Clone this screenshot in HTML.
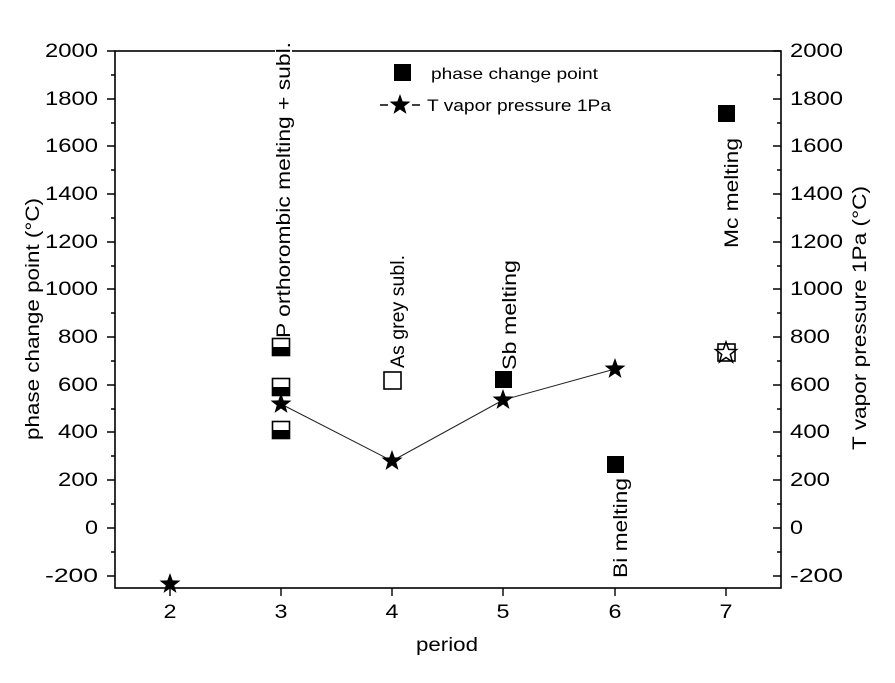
<!DOCTYPE html>
<html><head><style>body{margin:0;background:#fff}svg text{font-family:"Liberation Sans",Arial,sans-serif;fill:#000}</style></head>
<body>
<svg width="895" height="678" viewBox="0 0 895 678" xmlns="http://www.w3.org/2000/svg">
<defs>
<path id="st" d="M0,-11 L2.65,-3.64 L10.46,-3.4 L4.28,1.39 L6.47,8.9 L0,4.5 L-6.47,8.9 L-4.28,1.39 L-10.46,-3.4 L-2.65,-3.64Z"/>
<g id="hs"><rect x="-8.5" y="-8.5" width="17" height="17" fill="#fff" stroke="#000" stroke-width="1.6"/><rect x="-8.5" y="0" width="17" height="8.5" fill="#000"/></g>
</defs>
<rect x="115" y="51" width="666" height="537" fill="none" stroke="#000" stroke-width="1.6"/>
<g stroke="#000" stroke-width="1.4">
<path d="M115,51h-8M115,99h-8M115,146h-8M115,194h-8M115,242h-8M115,289h-8M115,337h-8M115,385h-8M115,432h-8M115,480h-8M115,528h-8M115,576h-8"/>
<path d="M115,75h-4M115,123h-4M115,170h-4M115,218h-4M115,266h-4M115,313h-4M115,361h-4M115,409h-4M115,456h-4M115,504h-4M115,552h-4"/>
<path d="M781,51h-8M781,99h-8M781,146h-8M781,194h-8M781,242h-8M781,289h-8M781,337h-8M781,385h-8M781,432h-8M781,480h-8M781,528h-8M781,576h-8"/>
<path d="M781,75h-4M781,123h-4M781,170h-4M781,218h-4M781,266h-4M781,313h-4M781,361h-4M781,409h-4M781,456h-4M781,504h-4M781,552h-4"/>
<path d="M170,588v8M281,588v8M392,588v8M503,588v8M615,588v8M726,588v8"/>
</g>
<g font-size="19" text-anchor="end">
<text x="98" y="57" textLength="53" lengthAdjust="spacingAndGlyphs">2000</text><text x="98" y="105" textLength="53" lengthAdjust="spacingAndGlyphs">1800</text><text x="98" y="152" textLength="53" lengthAdjust="spacingAndGlyphs">1600</text><text x="98" y="200" textLength="53" lengthAdjust="spacingAndGlyphs">1400</text><text x="98" y="248" textLength="53" lengthAdjust="spacingAndGlyphs">1200</text><text x="98" y="295" textLength="53" lengthAdjust="spacingAndGlyphs">1000</text><text x="98" y="343" textLength="40" lengthAdjust="spacingAndGlyphs">800</text><text x="98" y="391" textLength="40" lengthAdjust="spacingAndGlyphs">600</text><text x="98" y="438" textLength="40" lengthAdjust="spacingAndGlyphs">400</text><text x="98" y="486" textLength="40" lengthAdjust="spacingAndGlyphs">200</text><text x="98" y="534" textLength="13" lengthAdjust="spacingAndGlyphs">0</text><text x="98" y="582" textLength="53" lengthAdjust="spacingAndGlyphs">-200</text>
</g>
<g font-size="19" text-anchor="start">
<text x="790" y="57" textLength="53" lengthAdjust="spacingAndGlyphs">2000</text><text x="790" y="105" textLength="53" lengthAdjust="spacingAndGlyphs">1800</text><text x="790" y="152" textLength="53" lengthAdjust="spacingAndGlyphs">1600</text><text x="790" y="200" textLength="53" lengthAdjust="spacingAndGlyphs">1400</text><text x="790" y="248" textLength="53" lengthAdjust="spacingAndGlyphs">1200</text><text x="790" y="295" textLength="53" lengthAdjust="spacingAndGlyphs">1000</text><text x="790" y="343" textLength="40" lengthAdjust="spacingAndGlyphs">800</text><text x="790" y="391" textLength="40" lengthAdjust="spacingAndGlyphs">600</text><text x="790" y="438" textLength="40" lengthAdjust="spacingAndGlyphs">400</text><text x="790" y="486" textLength="40" lengthAdjust="spacingAndGlyphs">200</text><text x="790" y="534" textLength="13" lengthAdjust="spacingAndGlyphs">0</text><text x="790" y="582" textLength="53" lengthAdjust="spacingAndGlyphs">-200</text>
</g>
<g font-size="19" text-anchor="middle">
<text x="170" y="618" textLength="13" lengthAdjust="spacingAndGlyphs">2</text><text x="281" y="618" textLength="13" lengthAdjust="spacingAndGlyphs">3</text><text x="392" y="618" textLength="13" lengthAdjust="spacingAndGlyphs">4</text><text x="503" y="618" textLength="13" lengthAdjust="spacingAndGlyphs">5</text><text x="615" y="618" textLength="13" lengthAdjust="spacingAndGlyphs">6</text><text x="726" y="618" textLength="13" lengthAdjust="spacingAndGlyphs">7</text>
<text x="447" y="651" textLength="62" lengthAdjust="spacingAndGlyphs">period</text>
<text transform="translate(39,319) rotate(-90)" textLength="242" lengthAdjust="spacingAndGlyphs">phase change point (°C)</text>
<text transform="translate(866,318) rotate(-90)" textLength="264" lengthAdjust="spacingAndGlyphs">T vapor pressure 1Pa (°C)</text>
</g>
<g font-size="19">
<rect x="275" y="40" width="17" height="20" fill="#fff"/>
<text transform="translate(290,338) rotate(-90)" textLength="296" lengthAdjust="spacingAndGlyphs">P orthorombic melting + subl.</text>
<text transform="translate(404,368) rotate(-90)" textLength="113" lengthAdjust="spacingAndGlyphs">As grey subl.</text>
<text transform="translate(516,370) rotate(-90)" textLength="110" lengthAdjust="spacingAndGlyphs">Sb melting</text>
<text transform="translate(627,578) rotate(-90)" textLength="100" lengthAdjust="spacingAndGlyphs">Bi melting</text>
<text transform="translate(738,248) rotate(-90)" textLength="110" lengthAdjust="spacingAndGlyphs">Mc melting</text>
</g>
<polyline points="281,404 392,461 503,400 615,369" fill="none" stroke="#222" stroke-width="1"/>
<use href="#hs" x="281" y="347"/>
<use href="#hs" x="281" y="387"/>
<use href="#hs" x="281" y="430"/>
<use href="#st" x="281" y="404"/>
<rect x="384" y="372" width="17" height="17" fill="#fff" stroke="#000" stroke-width="1.6"/>
<rect x="495" y="371" width="17" height="17" fill="#000"/>
<rect x="607" y="456" width="17" height="17" fill="#000"/>
<rect x="718" y="105" width="17" height="17" fill="#000"/>
<use href="#st" x="170" y="584"/>
<use href="#st" x="392" y="461"/>
<use href="#st" x="503" y="400"/>
<use href="#st" x="615" y="369"/>
<rect x="718" y="344" width="17" height="17" fill="#fff" stroke="#000" stroke-width="1.6"/>
<use href="#st" x="726" y="353" fill="#fff" stroke="#000" stroke-width="1.5"/>
<rect x="394" y="64" width="17" height="17" fill="#000"/>
<text x="431" y="79" font-size="16" textLength="167" lengthAdjust="spacingAndGlyphs">phase change point</text>
<path d="M380,105h8M412,105h8" stroke="#000" stroke-width="1.5"/>
<use href="#st" x="400" y="105"/>
<text x="427" y="111" font-size="17" textLength="184" lengthAdjust="spacingAndGlyphs">T vapor pressure 1Pa</text>
</svg>
</body></html>
